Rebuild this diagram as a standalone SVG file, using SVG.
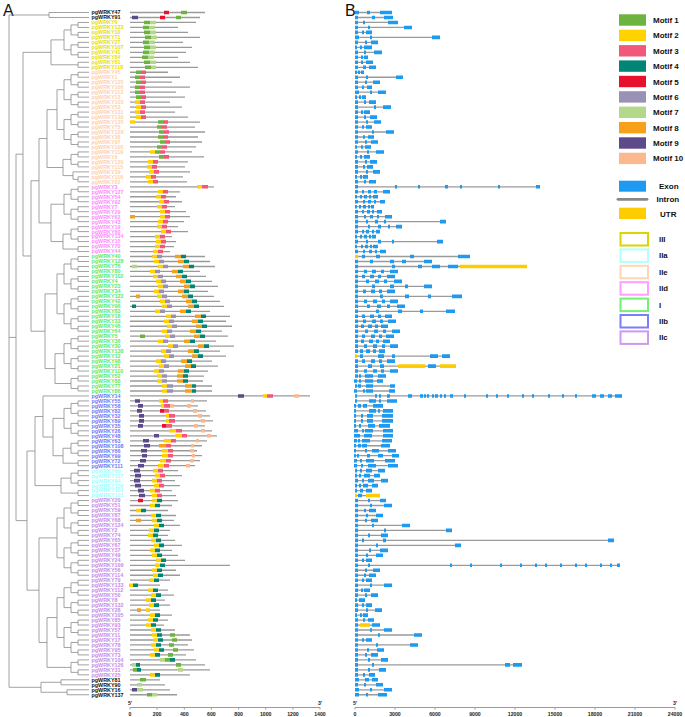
<svg xmlns="http://www.w3.org/2000/svg" width="685" height="717" viewBox="0 0 685 717">
<style>
.tl{fill:none;stroke:#8a8a8a;stroke-width:.8;vector-effect:non-scaling-stroke}
.ln{fill:none;stroke:#9a9a9a;stroke-width:1.3;vector-effect:non-scaling-stroke}
.mo{fill:none;stroke-width:3.6;vector-effect:non-scaling-stroke}
.m1{stroke:#6DB33F}.m2{stroke:#FFD200}.m3{stroke:#F0597A}.m4{stroke:#008576}.m5{stroke:#E8112D}
.m6{stroke:#9A92B5}.m7{stroke:#B3D88A}.m8{stroke:#F7A11A}.m9{stroke:#5C4A8A}.m10{stroke:#FDB98E}
.ex{stroke:#1E9AF0}.ut{stroke:#FFCC00}
.nm{font-family:"Liberation Sans",Arial,sans-serif;font-weight:bold;font-size:5.4px}
.k{fill:#111}.g3{fill:#E8E000}.ge{fill:#FFD0A8}.gd{fill:#FF8AFF}.g1{fill:#5EEA5E}.gb{fill:#7474F8}.ga{fill:#A0FFFF}.gc{fill:#C88AEA}
.ax{fill:none;stroke:#9a9a9a;stroke-width:1}
.at{font-family:"Liberation Sans",Arial,sans-serif;font-weight:bold;font-size:5.2px;fill:#222;text-anchor:middle}
.lg{font-family:"Liberation Sans",Arial,sans-serif;font-weight:bold;font-size:8px;fill:#111}
.gl{font-family:"Liberation Sans",Arial,sans-serif;font-weight:bold;font-size:7.8px;fill:#111}
.pl{font-family:"Liberation Sans",Arial,sans-serif;font-size:16px;fill:#111}
.gbx{fill:#fff;stroke-width:2}
</style>
<defs>
<g id="t2"><path class="tl" d="M89 0H78V1H89"/></g>
<g id="t4"><use href="#t2"/><use href="#t2" y="2"/><path class="tl" d="M78 .5H71V2.5H78"/></g>
<g id="t8"><use href="#t4"/><use href="#t4" y="4"/><path class="tl" d="M71 1.5H64V5.5H71"/></g>
<g id="t16"><use href="#t8"/><use href="#t8" y="8"/><path class="tl" d="M64 3.5H57V11.5H64"/></g>
<g id="t3"><use href="#t2" y="1"/><path class="tl" d="M89 0H73V1.5H78"/></g>
</defs>
<text class="pl" x="3" y="16">A</text>
<text class="pl" x="345" y="16">B</text>
<g id="rows" transform="matrix(1 0 0 4.98 0 12.5)">
<g id="tree">
<path class="tl" d="M89 0H49V1H89"/>
<use href="#t8" y="2"/><use href="#t2" y="10"/>
<path class="tl" d="M64 5.5H51V10.5H78"/>
<use href="#t16" y="12"/><use href="#t4" y="28"/><use href="#t3" y="32"/>
<path class="tl" d="M71 29.5H63V32.75H73M57 19.5H47V31.125H63"/>
<use href="#t8" y="35"/><use href="#t4" y="43"/><use href="#t2" y="47"/>
<path class="tl" d="M71 44.5H63V47.5H78M64 38.5H51V46H63M47 25.31H39V42.25H51"/>
<use href="#t16" y="49"/><use href="#t8" y="65"/><use href="#t4" y="73"/>
<path class="tl" d="M64 68.5H55V74.5H71M57 56.5H45V71.5H55M39 33.78H31V64H45M51 8H23V48.89H31"/>
<use href="#t8" y="78"/><use href="#t4" y="86"/><use href="#t2" y="90"/>
<path class="tl" d="M71 87.5H63V90.5H78M64 81.5H53V89H63M89 77H43V85.25H53"/>
<use href="#t4" y="92"/><use href="#t2" y="96"/>
<path class="tl" d="M71 93.5H61V96.5H78M43 81.13H35V95H61"/>
<use href="#t16" y="98"/><use href="#t16" y="114"/><use href="#t4" y="130"/>
<path class="tl" d="M57 121.5H47V131.5H71M57 105.5H39V126.5H47M35 88.06H27V116H39M23 28.45H16V102.03H27"/>
<path class="tl" d="M89 134H61V135H89M89 136H67V137H89M61 134.5H41V136.5H67"/>
<path class="tl" d="M49 .5H9V135.5H41M9 65.24H16"/>
</g>
<g id="motifs">
<path class="ln" d="M130 0H205M130 1H200M130 2H196M130 3H178M130 4H188M130 5H200M130 6H183M130 7H192M130 8H186M130 9H178M130 10H190M130 11H198M130 12H168M130 13H180M130 14H172M130 15H190M130 16H176M130 17H185M130 18H170M130 19H182M130 20H175M130 21H188M130 22H200M130 23H195M130 24H205M130 25H198M130 26H202M130 27H196M130 28H192M130 29H204M130 30H188M130 31H185M130 32H190M130 33H183M130 34H187M130 35H214M130 36H180M130 37H176M130 38H182M130 39H175M130 40H186M130 41H190M130 42H184M130 43H178M130 44H188M130 45H172M130 46H176M130 47H174M130 48H170M130 49H205M130 50H210M130 51H215M130 52H200M130 53H206M130 54H212M130 55H218M130 56H208M130 57H214M130 58H220M130 59H224M130 60H210M130 61H230M130 62H226M130 63H232M130 64H222M130 65H228M130 66H216M130 67H234M130 68H220M130 69H226M130 70H212M130 71H218M130 72H208M130 73H204M130 74H203M130 75H212M130 76H212M130 77H310M130 78H207M130 79H198M130 80H206M130 81H210M130 82H213M130 83H205M130 84H212M130 85H217M130 86H207M130 87H202M130 88H197M130 89H202M130 90H200M130 91H195M130 92H178M130 93H182M130 94H175M130 95H180M130 96H172M130 97H176M130 98H178M130 99H172M130 100H168M130 101H176M130 102H174M130 103H180M130 104H170M130 105H168M130 106H175M130 107H182M130 108H172M130 109H178M130 110H185M130 111H230M130 112H176M130 113H180M130 114H170M130 115H160M130 116H168M130 117H174M130 118H165M130 119H170M130 120H160M130 121H172M130 122H168M130 123H164M130 124H175M130 125H190M130 126H192M130 127H188M130 128H194M130 129H186M130 130H196M130 131H205M130 132H210M130 133H190M130 134H160M130 135H165M130 136H170M130 137H177"/>
<path class="mo m1" d="M181 0h6M176 1h5M144 2h6M143 3h6M144 4h6M145 5h6M143 6h6M144 7h6M143 8h6M142 9h6M144 10h6M145 11h6M136 12h5M135 13h5M136 14h5M135 15h5M135 16h5M136 17h5M158 22h5M157 23h5M159 24h5M158 25h5M160 26h5M157 27h5M155 28h5M159 29h5M140 65h5M170 125h5M172 126h5M169 127h5M173 128h5M168 129h5M165 130h5M176 131h5M133 132h4M140 134h6M147 137h5"/>
<path class="mo m7" d="M150 2h6M149 3h6M150 4h6M151 5h6M149 6h6M150 7h6M149 8h6M148 9h6M150 10h6M151 11h5M132 51h5M160 130h5M132 131h4M178 132h5M137 135h5M137 136h6M152 137h5"/>
<path class="mo m2" d="M135 18h5M136 19h5M135 20h5M136 21h5M130 22h5M150 28h5M148 30h5M147 31h5M149 32h5M146 33h5M148 34h5M197 35h5M158 36h5M156 37h5M159 38h5M157 39h5M160 40h5M160 41h5M158 42h5M157 43h5M161 44h5M155 45h5M156 46h5M155 47h5M153 48h5M152 49h5M154 50h5M158 51h5M150 52h5M153 53h5M156 54h5M158 55h5M154 56h5M157 57h5M160 58h5M162 59h5M155 60h5M166 61h5M164 62h5M167 63h5M162 64h5M165 65h5M158 66h5M168 67h5M161 68h5M164 69h5M156 70h5M159 71h5M154 72h5M157 73h5M157 74h5M162 75h5M162 76h5M263 77h4M159 78h4M161 79h3M166 81h3M166 82h3M169 84h7M175 85h7M164 86h7M162 88h6M162 89h6M160 90h6M158 91h6M153 92h5M155 93h5M152 94h5M154 95h5M150 96h5M152 97h5M152 98h5M150 99h5M136 100h5M151 101h5M152 102h5M154 103h5M149 104h5M148 105h5M151 106h5M154 107h5M150 108h5M152 109h5M156 110h5M155 111h5M152 112h5M153 113h5M149 114h5M129 115h4M148 116h5M151 117h5M146 118h5M149 119h5M146 120h4M150 121h5M148 122h5M146 123h5M151 124h5M152 125h5M153 126h5M151 127h5M154 128h5M150 129h5M150 133h5"/>
<path class="mo m3" d="M141 12h5M140 13h5M141 14h5M140 15h5M140 16h5M141 17h5M140 18h5M141 19h5M140 20h5M141 21h5M163 22h5M162 23h5M164 24h5M163 25h5M165 26h5M162 27h5M160 28h5M164 29h5M153 30h5M152 31h5M154 32h5M151 33h5M153 34h5M202 35h6M163 36h5M161 37h5M164 38h5M162 39h5M165 40h5M165 41h5M163 42h5M162 43h5M166 44h5M160 45h5M161 46h5M160 47h5M158 48h5M267 77h6M163 78h5M164 79h6M164 80h5M169 81h6M169 82h6M166 83h6M176 84h6M182 85h5M171 86h5M166 87h5M168 88h5M168 89h5M166 90h5M164 91h5M158 92h5M160 93h5M157 94h5M159 95h5M155 96h5M157 97h5"/>
<path class="mo m4" d="M181 49h5M184 50h5M189 51h5M178 52h5M182 53h5M186 54h5M190 55h5M184 56h5M188 57h5M192 58h5M132 59h4M194 59h5M186 60h5M201 61h5M198 62h5M202 63h5M196 64h5M200 65h5M190 66h5M204 67h5M194 68h5M198 69h5M187 70h5M191 71h5M184 72h5M183 73h5M183 74h5M192 75h4M192 76h4M157 98h5M155 99h5M141 100h5M156 101h5M157 102h5M159 103h5M154 104h5M153 105h5M156 106h5M159 107h5M155 108h5M157 109h5M161 110h5M160 111h5M157 112h5M158 113h5M154 114h5M133 115h5M153 116h5M156 117h5M151 118h5M154 119h5M155 121h5M153 122h5M151 123h5M156 124h5M157 125h5M158 126h5M156 127h5M159 128h5M155 129h5M170 130h5M136 131h4M137 132h4M155 133h5"/>
<path class="mo m5" d="M164 0h5M160 1h5M160 80h4M162 83h4M138 98h5"/>
<path class="mo m6" d="M157 49h5M159 50h5M163 51h5M155 52h5M158 53h5M161 54h5M163 55h5M159 56h5M162 57h5M165 58h5M167 59h5M160 60h5M171 61h5M169 62h5M172 63h5M167 64h5M170 65h5M163 66h5M173 67h5M166 68h5M169 69h5M161 70h5M164 71h5M159 72h5M162 73h5M162 74h5M167 75h6M167 76h6"/>
<path class="mo m8" d="M130 41h5M136 57h4M175 49h6M178 50h6M183 51h6M172 52h6M176 53h6M180 54h6M184 55h6M178 56h6M182 57h6M186 58h6M188 59h6M180 60h6M195 61h6M192 62h6M196 63h6M190 64h6M194 65h6M184 66h6M198 67h6M188 68h6M192 69h6M181 70h6M185 71h6M178 72h6M177 73h6M177 74h6M185 75h7M185 76h7M159 87h7M136 102h5M137 120h4"/>
<path class="mo m9" d="M132 1h6M238 77h6M135 78h5M138 79h5M137 80h5M139 81h5M139 82h5M138 83h5M154 85h5M143 86h6M144 87h6M141 88h6M142 89h5M140 90h6M138 91h6M134 92h6M135 93h6M134 94h6M135 95h6M138 96h6M139 97h6M132 136h5"/>
<path class="mo m10" d="M294 77h5M191 78h3M170 79h4M187 79h4M193 80h4M198 81h4M201 82h4M194 83h4M201 84h4M207 85h4M196 86h3M191 87h3M190 88h4M192 89h3M190 90h4M186 91h4"/>
</g>
<g id="genes">
<path class="ln" d="M355 0H392M355 1H393M355 2H398M355 3H412M355 4H372M355 5H440M355 6H378M355 7H372M355 8H382M355 9H368M355 10H373M355 11H376M355 12H364M355 13H403M355 14H380M355 15H372M355 16H386M355 17H366M355 18H376M355 19H391M355 20H370M355 21H377M355 22H381M355 23H372M355 24H394M355 25H374M355 26H378M355 27H371M355 28H384M355 29H370M355 30H377M355 31H373M355 32H380M355 33H368M355 34H376M355 35H540M355 36H390M355 37H378M355 38H385M355 39H374M355 40H382M355 41H392M355 42H446M355 43H402M355 44H380M355 45H376M355 46H443M355 47H378M355 48H386M355 49H470M355 50H432M355 51H527M355 52H398M355 53H395M355 54H402M355 55H432M355 56H395M355 57H462M355 58H398M355 59H405M355 60H455M355 61H392M355 62H396M355 63H388M355 64H400M355 65H394M355 66H390M355 67H398M355 68H385M355 69H450M355 70H395M355 71H456M355 72H398M355 73H386M355 74H383M355 75H395M355 76H395M355 77H622M355 78H397M355 79H383M355 80H393M355 81H393M355 82H393M355 83H390M355 84H393M355 85H393M355 86H392M355 87H390M355 88H396M355 89H399M355 90H395M355 91H398M355 92H385M355 93H380M355 94H388M355 95H378M355 96H372M355 97H380M355 98H386M355 99H392M355 100H376M355 101H383M355 102H378M355 103H410M355 104H452M355 105H388M355 106H614M355 107H461M355 108H388M355 109H383M355 110H372M355 111H620M355 112H380M355 113H376M355 114H372M355 115H392M355 116H370M355 117H378M355 118H365M355 119H372M355 120H382M355 121H368M355 122H374M355 123H380M355 124H392M355 125H422M355 126H372M355 127H418M355 128H384M355 129H378M355 130H388M355 131H522M355 132H386M355 133H375M355 134H378M355 135H383M355 136H392M355 137H387"/>
<path class="mo ex" d="M355 0h4M367 0h3M380 0h12M355 1h3M372 1h3M384 1h9M355 2h3M363 2h2M388 2h10M355 3h3M368 3h2M404 3h8M355 4h3M362 4h2M366 4h6M355 5h4M370 5h2M432 5h8M355 6h3M365 6h2M371 6h7M355 7h2M360 7h2M364 7h8M355 8h3M364 8h2M374 8h8M355 9h3M361 9h2M364 9h4M355 10h3M361 10h2M366 10h7M355 11h3M363 11h3M369 11h7M355 12h2M358 12h2M361 12h3M355 13h3M366 13h2M396 13h7M355 14h3M365 14h2M373 14h7M355 15h3M362 15h2M367 15h5M355 16h4M370 16h2M378 16h8M355 17h2M359 17h2M362 17h4M355 18h3M364 18h2M369 18h7M355 19h3M374 19h2M383 19h8M355 20h3M361 20h2M364 20h6M355 21h3M364 21h2M370 21h7M355 22h3M366 22h2M374 22h7M355 23h3M362 23h2M366 23h6M355 24h3M372 24h2M386 24h8M355 25h3M363 25h2M368 25h6M355 26h3M365 26h2M371 26h7M355 27h2M361 27h2M365 27h6M355 28h3M367 28h2M376 28h8M355 29h2M360 29h2M364 29h6M355 30h3M365 30h2M370 30h7M355 31h3M363 31h2M367 31h6M355 32h3M366 32h2M373 32h7M355 33h2M360 33h2M363 33h5M355 34h3M364 34h2M369 34h7M355 35h3M395 35h2M418 35h2M445 35h3M460 35h2M498 35h2M536 35h4M355 36h3M362 36h2M368 36h3M374 36h3M383 36h7M355 37h2M360 37h2M364 37h3M369 37h2M373 37h5M355 38h3M363 38h2M368 38h3M374 38h2M380 38h5M355 39h2M359 39h2M363 39h3M368 39h2M371 39h3M355 40h3M362 40h2M367 40h3M372 40h2M377 40h5M355 41h3M364 41h2M370 41h3M377 41h2M385 41h7M355 42h3M366 42h2M375 42h3M384 42h2M440 42h6M355 43h3M368 43h2M378 43h3M388 43h2M396 43h6M355 44h3M362 44h2M366 44h3M372 44h2M376 44h4M355 45h2M360 45h2M364 45h3M369 45h2M372 45h4M355 46h3M366 46h2M378 46h3M392 46h2M437 46h6M355 47h2M361 47h2M365 47h3M370 47h2M373 47h5M355 48h3M363 48h2M369 48h3M375 48h2M380 48h6M362 49h3M376 49h4M410 49h4M458 49h12M355 50h3M370 50h3M390 50h4M402 50h4M424 50h8M355 51h3M392 51h3M418 51h4M432 51h8M448 51h10M355 52h3M364 52h3M372 52h4M381 52h3M390 52h8M355 53h3M362 53h3M370 53h4M378 53h3M387 53h8M355 54h3M366 54h3M375 54h4M384 54h3M394 54h8M355 55h3M372 55h3M390 55h4M405 55h3M424 55h8M355 56h3M363 56h3M371 56h4M379 56h3M387 56h8M355 57h3M380 57h3M405 57h4M428 57h3M452 57h10M355 58h3M364 58h3M373 58h4M382 58h3M390 58h8M355 59h3M367 59h3M377 59h4M387 59h3M397 59h8M355 60h3M376 60h3M398 60h4M420 60h3M446 60h9M355 61h3M362 61h3M370 61h4M378 61h3M385 61h7M355 62h3M363 62h3M372 62h4M380 62h3M388 62h8M355 63h3M361 63h3M368 63h4M375 63h3M381 63h7M355 64h3M365 64h3M374 64h4M383 64h3M392 64h8M355 65h3M362 65h3M371 65h4M379 65h3M386 65h8M355 66h3M361 66h3M369 66h4M376 66h3M383 66h7M355 67h3M364 67h3M373 67h4M382 67h3M390 67h8M355 68h3M360 68h3M366 68h4M373 68h3M379 68h6M360 69h3M378 69h6M392 69h3M430 69h8M442 69h8M355 70h3M362 70h3M371 70h4M379 70h3M387 70h8M355 71h3M368 71h4M380 71h4M428 71h8M355 72h3M364 72h3M373 72h4M381 72h3M390 72h8M355 73h3M359 73h2M365 73h8M378 73h8M354 74h3M359 74h2M365 74h8M377 74h6M355 75h2M358 75h3M366 75h7M390 75h5M354 76h3M363 76h2M366 76h7M389 76h6M355 77h2M375 77h2M379 77h2M387 77h3M408 77h4M420 77h3M424 77h2M427 77h2M432 77h2M435 77h3M440 77h2M444 77h2M450 77h3M464 77h2M486 77h2M496 77h2M507 77h2M522 77h2M532 77h2M548 77h2M562 77h2M575 77h2M592 77h4M600 77h4M608 77h4M615 77h7M355 78h2M369 78h7M379 78h2M387 78h10M354 79h2M358 79h3M363 79h4M373 79h10M354 80h2M369 80h7M378 80h2M383 80h10M354 81h2M361 81h2M367 81h6M382 81h11M354 82h2M361 82h2M367 82h6M382 82h11M354 83h2M359 83h2M368 83h7M379 83h11M354 84h4M362 84h2M365 84h8M383 84h10M354 85h6M364 85h8M383 85h10M354 86h3M358 86h2M362 86h8M382 86h10M354 87h2M358 87h3M362 87h5M381 87h9M354 88h2M365 88h2M372 88h7M388 88h8M354 89h2M357 89h2M367 89h3M378 89h5M392 89h7M354 90h3M360 90h2M366 90h8M385 90h10M354 91h3M361 91h2M368 91h8M388 91h10M355 92h2M360 92h2M366 92h6M378 92h7M355 93h2M359 93h2M364 93h6M374 93h6M355 94h3M362 94h2M368 94h6M381 94h7M355 95h2M359 95h2M363 95h5M372 95h6M355 96h2M360 96h3M366 96h6M358 97h4M355 98h3M368 98h2M380 98h6M355 99h3M370 99h2M384 99h8M355 100h3M364 100h2M369 100h7M355 101h3M366 101h2M376 101h7M355 102h3M365 102h2M371 102h7M355 103h3M372 103h2M402 103h8M355 104h3M384 104h2M446 104h6M355 105h3M368 105h2M381 105h7M355 106h3M362 106h2M383 106h3M608 106h6M355 107h3M376 107h2M455 107h6M355 108h3M369 108h2M380 108h8M355 109h3M366 109h2M376 109h7M355 110h3M362 110h2M366 110h6M355 111h3M368 111h2M450 111h2M470 111h2M500 111h2M520 111h2M535 111h2M545 111h2M560 111h2M575 111h2M585 111h2M600 111h2M610 111h2M617 111h3M355 112h3M365 112h2M373 112h7M355 113h3M364 113h2M369 113h7M355 114h3M362 114h2M366 114h6M355 115h3M370 115h2M384 115h8M355 116h3M361 116h2M364 116h6M355 117h3M365 117h2M371 117h7M355 118h2M359 118h2M361 118h4M355 119h3M362 119h2M366 119h6M355 120h3M366 120h2M375 120h7M355 121h2M360 121h2M363 121h5M355 122h3M363 122h2M368 122h6M355 123h3M372 123h8M355 124h3M370 124h2M384 124h8M355 125h3M378 125h2M414 125h8M355 126h3M362 126h2M366 126h6M355 127h3M376 127h2M410 127h8M355 128h3M367 128h2M377 128h7M355 129h3M365 129h2M371 129h7M355 130h3M368 130h2M381 130h7M355 131h3M372 131h2M505 131h5M513 131h9M355 132h3M368 132h2M379 132h7M355 133h3M363 133h2M369 133h6M355 134h4M365 134h4M372 134h6M355 135h3M364 135h2M376 135h7M355 136h4M370 136h2M384 136h8M355 137h4M366 137h2M378 137h9"/>
<path class="mo ut" d="M355 49h3M460 51h67M355 69h2M398 71h27M440 71h16M355 97h2M366 97h14M360 123h10"/>
</g>
</g>
<g id="names">
<text class="nm"><tspan x="91.5" y="14.4" class="k">pgWRKY47</tspan><tspan x="91.5" dy="4.98" class="k">pgWRKY91</tspan><tspan x="91.5" dy="4.98" class="g3">pgWRKY6</tspan><tspan x="91.5" dy="4.98" class="g3">pgWRKY123</tspan><tspan x="91.5" dy="4.98" class="g3">pgWRKY10</tspan><tspan x="91.5" dy="4.98" class="g3">pgWRKY71</tspan><tspan x="91.5" dy="4.98" class="g3">pgWRKY27</tspan><tspan x="91.5" dy="4.98" class="g3">pgWRKY107</tspan><tspan x="91.5" dy="4.98" class="g3">pgWRKY41</tspan><tspan x="91.5" dy="4.98" class="g3">pgWRKY84</tspan><tspan x="91.5" dy="4.98" class="g3">pgWRKY61</tspan><tspan x="91.5" dy="4.98" class="g3">pgWRKY118</tspan><tspan x="91.5" dy="4.98" class="ge">pgWRKY45</tspan><tspan x="91.5" dy="4.98" class="ge">pgWRKY1</tspan><tspan x="91.5" dy="4.98" class="ge">pgWRKY125</tspan><tspan x="91.5" dy="4.98" class="ge">pgWRKY106</tspan><tspan x="91.5" dy="4.98" class="ge">pgWRKY113</tspan><tspan x="91.5" dy="4.98" class="ge">pgWRKY13</tspan><tspan x="91.5" dy="4.98" class="ge">pgWRKY103</tspan><tspan x="91.5" dy="4.98" class="ge">pgWRKY53</tspan><tspan x="91.5" dy="4.98" class="ge">pgWRKY131</tspan><tspan x="91.5" dy="4.98" class="ge">pgWRKY130</tspan><tspan x="91.5" dy="4.98" class="ge">pgWRKY135</tspan><tspan x="91.5" dy="4.98" class="ge">pgWRKY75</tspan><tspan x="91.5" dy="4.98" class="ge">pgWRKY129</tspan><tspan x="91.5" dy="4.98" class="ge">pgWRKY38</tspan><tspan x="91.5" dy="4.98" class="ge">pgWRKY97</tspan><tspan x="91.5" dy="4.98" class="ge">pgWRKY100</tspan><tspan x="91.5" dy="4.98" class="ge">pgWRKY119</tspan><tspan x="91.5" dy="4.98" class="ge">pgWRKY9</tspan><tspan x="91.5" dy="4.98" class="ge">pgWRKY120</tspan><tspan x="91.5" dy="4.98" class="ge">pgWRKY115</tspan><tspan x="91.5" dy="4.98" class="ge">pgWRKY39</tspan><tspan x="91.5" dy="4.98" class="ge">pgWRKY116</tspan><tspan x="91.5" dy="4.98" class="ge">pgWRKY22</tspan><tspan x="91.5" dy="4.98" class="gd">pgWRKY3</tspan><tspan x="91.5" dy="4.98" class="gd">pgWRKY127</tspan><tspan x="91.5" dy="4.98" class="gd">pgWRKY54</tspan><tspan x="91.5" dy="4.98" class="gd">pgWRKY92</tspan><tspan x="91.5" dy="4.98" class="gd">pgWRKY7</tspan><tspan x="91.5" dy="4.98" class="gd">pgWRKY29</tspan><tspan x="91.5" dy="4.98" class="gd">pgWRKY62</tspan><tspan x="91.5" dy="4.98" class="gd">pgWRKY43</tspan><tspan x="91.5" dy="4.98" class="gd">pgWRKY19</tspan><tspan x="91.5" dy="4.98" class="gd">pgWRKY60</tspan><tspan x="91.5" dy="4.98" class="gd">pgWRKY134</tspan><tspan x="91.5" dy="4.98" class="gd">pgWRKY15</tspan><tspan x="91.5" dy="4.98" class="gd">pgWRKY70</tspan><tspan x="91.5" dy="4.98" class="gd">pgWRKY44</tspan><tspan x="91.5" dy="4.98" class="g1">pgWRKY40</tspan><tspan x="91.5" dy="4.98" class="g1">pgWRKY128</tspan><tspan x="91.5" dy="4.98" class="g1">pgWRKY76</tspan><tspan x="91.5" dy="4.98" class="g1">pgWRKY80</tspan><tspan x="91.5" dy="4.98" class="g1">pgWRKY102</tspan><tspan x="91.5" dy="4.98" class="g1">pgWRKY4</tspan><tspan x="91.5" dy="4.98" class="g1">pgWRKY23</tspan><tspan x="91.5" dy="4.98" class="g1">pgWRKY34</tspan><tspan x="91.5" dy="4.98" class="g1">pgWRKY122</tspan><tspan x="91.5" dy="4.98" class="g1">pgWRKY42</tspan><tspan x="91.5" dy="4.98" class="g1">pgWRKY96</tspan><tspan x="91.5" dy="4.98" class="g1">pgWRKY83</tspan><tspan x="91.5" dy="4.98" class="g1">pgWRKY18</tspan><tspan x="91.5" dy="4.98" class="g1">pgWRKY33</tspan><tspan x="91.5" dy="4.98" class="g1">pgWRKY46</tspan><tspan x="91.5" dy="4.98" class="g1">pgWRKY64</tspan><tspan x="91.5" dy="4.98" class="g1">pgWRKY5</tspan><tspan x="91.5" dy="4.98" class="g1">pgWRKY36</tspan><tspan x="91.5" dy="4.98" class="g1">pgWRKY30</tspan><tspan x="91.5" dy="4.98" class="g1">pgWRKY138</tspan><tspan x="91.5" dy="4.98" class="g1">pgWRKY12</tspan><tspan x="91.5" dy="4.98" class="g1">pgWRKY98</tspan><tspan x="91.5" dy="4.98" class="g1">pgWRKY21</tspan><tspan x="91.5" dy="4.98" class="g1">pgWRKY110</tspan><tspan x="91.5" dy="4.98" class="g1">pgWRKY52</tspan><tspan x="91.5" dy="4.98" class="g1">pgWRKY88</tspan><tspan x="91.5" dy="4.98" class="g1">pgWRKY77</tspan><tspan x="91.5" dy="4.98" class="g1">pgWRKY86</tspan><tspan x="91.5" dy="4.98" class="gb">pgWRKY14</tspan><tspan x="91.5" dy="4.98" class="gb">pgWRKY55</tspan><tspan x="91.5" dy="4.98" class="gb">pgWRKY58</tspan><tspan x="91.5" dy="4.98" class="gb">pgWRKY82</tspan><tspan x="91.5" dy="4.98" class="gb">pgWRKY32</tspan><tspan x="91.5" dy="4.98" class="gb">pgWRKY89</tspan><tspan x="91.5" dy="4.98" class="gb">pgWRKY35</tspan><tspan x="91.5" dy="4.98" class="gb">pgWRKY26</tspan><tspan x="91.5" dy="4.98" class="gb">pgWRKY48</tspan><tspan x="91.5" dy="4.98" class="gb">pgWRKY63</tspan><tspan x="91.5" dy="4.98" class="gb">pgWRKY108</tspan><tspan x="91.5" dy="4.98" class="gb">pgWRKY66</tspan><tspan x="91.5" dy="4.98" class="gb">pgWRKY99</tspan><tspan x="91.5" dy="4.98" class="gb">pgWRKY72</tspan><tspan x="91.5" dy="4.98" class="gb">pgWRKY111</tspan><tspan x="91.5" dy="4.98" class="ga">pgWRKY69</tspan><tspan x="91.5" dy="4.98" class="ga">pgWRKY117</tspan><tspan x="91.5" dy="4.98" class="ga">pgWRKY94</tspan><tspan x="91.5" dy="4.98" class="ga">pgWRKY136</tspan><tspan x="91.5" dy="4.98" class="ga">pgWRKY101</tspan><tspan x="91.5" dy="4.98" class="ga">pgWRKY121</tspan><tspan x="91.5" dy="4.98" class="gc">pgWRKY20</tspan><tspan x="91.5" dy="4.98" class="gc">pgWRKY51</tspan><tspan x="91.5" dy="4.98" class="gc">pgWRKY59</tspan><tspan x="91.5" dy="4.98" class="gc">pgWRKY87</tspan><tspan x="91.5" dy="4.98" class="gc">pgWRKY68</tspan><tspan x="91.5" dy="4.98" class="gc">pgWRKY124</tspan><tspan x="91.5" dy="4.98" class="gc">pgWRKY2</tspan><tspan x="91.5" dy="4.98" class="gc">pgWRKY74</tspan><tspan x="91.5" dy="4.98" class="gc">pgWRKY65</tspan><tspan x="91.5" dy="4.98" class="gc">pgWRKY67</tspan><tspan x="91.5" dy="4.98" class="gc">pgWRKY37</tspan><tspan x="91.5" dy="4.98" class="gc">pgWRKY49</tspan><tspan x="91.5" dy="4.98" class="gc">pgWRKY24</tspan><tspan x="91.5" dy="4.98" class="gc">pgWRKY109</tspan><tspan x="91.5" dy="4.98" class="gc">pgWRKY56</tspan><tspan x="91.5" dy="4.98" class="gc">pgWRKY114</tspan><tspan x="91.5" dy="4.98" class="gc">pgWRKY79</tspan><tspan x="91.5" dy="4.98" class="gc">pgWRKY133</tspan><tspan x="91.5" dy="4.98" class="gc">pgWRKY112</tspan><tspan x="91.5" dy="4.98" class="gc">pgWRKY50</tspan><tspan x="91.5" dy="4.98" class="gc">pgWRKY8</tspan><tspan x="91.5" dy="4.98" class="gc">pgWRKY132</tspan><tspan x="91.5" dy="4.98" class="gc">pgWRKY28</tspan><tspan x="91.5" dy="4.98" class="gc">pgWRKY105</tspan><tspan x="91.5" dy="4.98" class="gc">pgWRKY85</tspan><tspan x="91.5" dy="4.98" class="gc">pgWRKY93</tspan><tspan x="91.5" dy="4.98" class="gc">pgWRKY57</tspan><tspan x="91.5" dy="4.98" class="gc">pgWRKY11</tspan><tspan x="91.5" dy="4.98" class="gc">pgWRKY17</tspan><tspan x="91.5" dy="4.98" class="gc">pgWRKY78</tspan><tspan x="91.5" dy="4.98" class="gc">pgWRKY95</tspan><tspan x="91.5" dy="4.98" class="gc">pgWRKY73</tspan><tspan x="91.5" dy="4.98" class="gc">pgWRKY104</tspan><tspan x="91.5" dy="4.98" class="gc">pgWRKY126</tspan><tspan x="91.5" dy="4.98" class="gc">pgWRKY31</tspan><tspan x="91.5" dy="4.98" class="gc">pgWRKY25</tspan><tspan x="91.5" dy="4.98" class="k">pgWRKY81</tspan><tspan x="91.5" dy="4.98" class="k">pgWRKY90</tspan><tspan x="91.5" dy="4.98" class="k">pgWRKY16</tspan><tspan x="91.5" dy="4.98" class="k">pgWRKY137</tspan></text>
</g>
<g id="axisA">
<path class="ax" d="M130 707.5H320M130 707.5v2M157.1 707.5v2M184.3 707.5v2M211.4 707.5v2M238.6 707.5v2M265.7 707.5v2M292.9 707.5v2M320 707.5v2"/>
<text class="at" x="130" y="704.5">5'</text><text class="at" x="320" y="704.5">3'</text>
<text class="at" x="130" y="715.5">0</text><text class="at" x="157.1" y="715.5">200</text><text class="at" x="184.3" y="715.5">400</text><text class="at" x="211.4" y="715.5">600</text><text class="at" x="238.6" y="715.5">800</text><text class="at" x="265.7" y="715.5">1000</text><text class="at" x="292.9" y="715.5">1200</text><text class="at" x="320" y="715.5">1400</text>
</g>
<g id="axisB">
<path class="ax" d="M355 707.5H675M355 707.5v2M395 707.5v2M435 707.5v2M475 707.5v2M515 707.5v2M555 707.5v2M595 707.5v2M635 707.5v2M675 707.5v2"/>
<text class="at" x="355" y="704.5">5'</text><text class="at" x="675" y="704.5">3'</text>
<text class="at" x="355" y="715.5">0</text><text class="at" x="395" y="715.5">3000</text><text class="at" x="435" y="715.5">6000</text><text class="at" x="475" y="715.5">9000</text><text class="at" x="515" y="715.5">12000</text><text class="at" x="555" y="715.5">15000</text><text class="at" x="595" y="715.5">18000</text><text class="at" x="635" y="715.5">21000</text><text class="at" x="675" y="715.5">24000</text>
</g>
<g id="legend-motifs">
<rect x="619" y="14.3" width="27" height="11.4" fill="#6DB33F"/><text class="lg" x="653" y="23">Motif 1</text>
<rect x="619" y="29.7" width="27" height="11.4" fill="#FFD200"/><text class="lg" x="653" y="38.4">Motif 2</text>
<rect x="619" y="45.1" width="27" height="11.4" fill="#F0597A"/><text class="lg" x="653" y="53.8">Motif 3</text>
<rect x="619" y="60.4" width="27" height="11.4" fill="#008576"/><text class="lg" x="653" y="69.1">Motif 4</text>
<rect x="619" y="75.8" width="27" height="11.4" fill="#E8112D"/><text class="lg" x="653" y="84.5">Motif 5</text>
<rect x="619" y="91.2" width="27" height="11.4" fill="#9A92B5"/><text class="lg" x="653" y="99.9">Motif 6</text>
<rect x="619" y="106.6" width="27" height="11.4" fill="#B3D88A"/><text class="lg" x="653" y="115.3">Motif 7</text>
<rect x="619" y="122" width="27" height="11.4" fill="#F7A11A"/><text class="lg" x="653" y="130.7">Motif 8</text>
<rect x="619" y="137.3" width="27" height="11.4" fill="#5C4A8A"/><text class="lg" x="653" y="146">Motif 9</text>
<rect x="619" y="152.7" width="27" height="11.4" fill="#FDB98E"/><text class="lg" x="653" y="161.4">Motif 10</text>
</g>
<g id="legend-gene">
<rect x="619" y="180.7" width="27" height="11" fill="#1E9AF0"/><text class="lg" x="659" y="189.4">Exon</text>
<path d="M618 199.3H647" stroke="#888" stroke-width="2.8" stroke-linecap="round"/><text class="lg" x="656.5" y="202.3">Intron</text>
<rect x="619" y="207.7" width="27" height="11.3" fill="#FFCC00"/><text class="lg" x="660" y="216.5">UTR</text>
</g>
<g id="legend-groups">
<rect class="gbx" x="620.5" y="233" width="27.5" height="12.5" stroke="#DCD400"/><text class="gl" x="659" y="242">III</text>
<rect class="gbx" x="620.5" y="249.4" width="27.5" height="12.5" stroke="#B2FFFF"/><text class="gl" x="659" y="258.4">IIa</text>
<rect class="gbx" x="620.5" y="265.8" width="27.5" height="12.5" stroke="#FFD5B5"/><text class="gl" x="659" y="274.8">IIe</text>
<rect class="gbx" x="620.5" y="282.2" width="27.5" height="12.5" stroke="#FF9EFF"/><text class="gl" x="659" y="291.2">IId</text>
<rect class="gbx" x="620.5" y="298.6" width="27.5" height="12.5" stroke="#74F074"/><text class="gl" x="659" y="307.6">I</text>
<rect class="gbx" x="620.5" y="315" width="27.5" height="12.5" stroke="#7C7CFF"/><text class="gl" x="659" y="324">IIb</text>
<rect class="gbx" x="620.5" y="331.4" width="27.5" height="12.5" stroke="#CE9AEE"/><text class="gl" x="659" y="340.4">IIc</text>
</g>
</svg>
